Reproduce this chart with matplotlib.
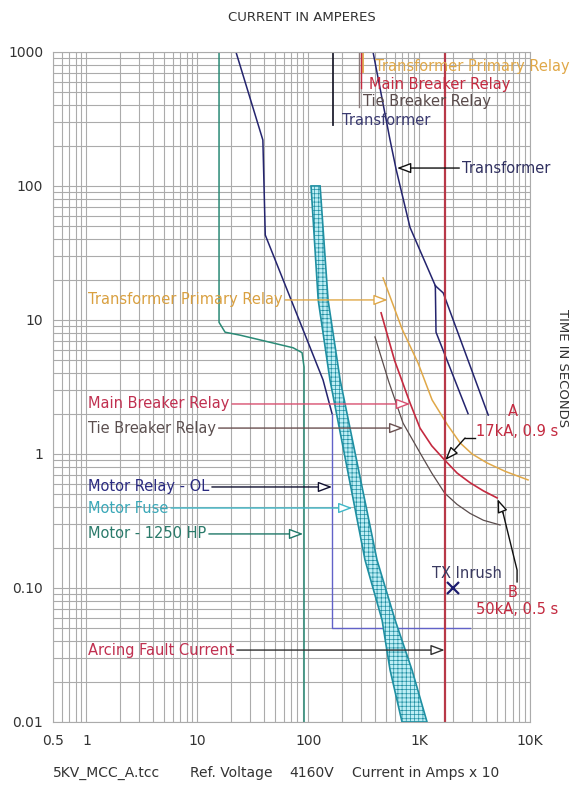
import matplotlib
matplotlib.use('Agg')
import matplotlib.pyplot as plt
import numpy as np
from matplotlib.ticker import FixedLocator, NullFormatter

plt.rcParams['font.family'] = ['DejaVu Sans']
plt.rcParams['hatch.linewidth'] = 0.5

# axis ticks
x_ticks = [0.5, 1, 10, 100, 1000, 10000]
x_labels = ['0.5', '1', '10', '100', '1K', '10K']
y_ticks = [0.01, 0.1, 1, 10, 100, 1000]
y_labels = ['0.01', '0.10', '1', '10', '100', '1000']

# motor relay - overload (upper part, then definite-time part)
relay_ol_i = [22.3, 39, 41, 136, 164]
relay_ol_t = [1000, 220, 43, 3.57, 2.0]
relay_ol_low_i = [164, 164, 2900]
relay_ol_low_t = [2.0, 0.05, 0.05]

# motor fuse band
fuse_min_i = [106, 123, 157, 325, 463, 547, 701]
fuse_max_i = [128, 151, 194, 417, 607, 863, 1178]
fuse_t = [100, 14.1, 3.57, 0.162, 0.0577, 0.0244, 0.01]

# motor 1250 HP starting curve
motor_i = [15.7, 15.7, 17.8, 24.3, 73, 88, 91.7, 91.7]
motor_t = [1000, 9.6, 8.1, 7.7, 6.2, 5.7, 4.46, 0.01]

# transformer damage curve
xfmr_i = [384, 547, 619, 828, 1400]
xfmr_t = [1000, 220, 134, 49, 18]
xfmr_a_i = [1400, 1420, 2760]
xfmr_a_t = [18, 8.1, 2.0]
xfmr_b_i = [1400, 1650, 4200]
xfmr_b_t = [18, 15.9, 1.95]

# relays
tpr_i = [473, 700, 977, 1309, 1800, 2340, 3000, 4094, 6000, 9600]
tpr_t = [20.6, 8.6, 4.78, 2.53, 1.65, 1.21, 1.0, 0.857, 0.74, 0.64]
mbr_i = [454, 600, 828, 1018, 1300, 1700, 2200, 2878, 3800, 5045]
mbr_t = [11.3, 5.0, 2.40, 1.56, 1.15, 0.90, 0.72, 0.61, 0.53, 0.47]
tbr_i = [400, 530, 716, 1018, 1300, 1700, 2200, 2878, 3800, 5370]
tbr_t = [7.47, 3.5, 1.70, 1.02, 0.72, 0.51, 0.42, 0.36, 0.32, 0.295]

fault_i = 1700
inrush_i, inrush_t = 2000, 0.1

navy = '#24246e'
orange = '#e0a848'
red = '#c42a40'
tie = '#5a4c4c'
fuse_c = '#1f8fa2'
motor_c = '#2a8a76'

fig = plt.figure(figsize=(5.75, 7.88), dpi=100)
ax = fig.add_axes([0.0922, 0.0838, 0.8296, 0.8503])
ax.set_xscale('log')
ax.set_yscale('log')
ax.set_xlim(0.5, 10000)
ax.set_ylim(0.01, 1000)
ax.xaxis.set_major_locator(FixedLocator(x_ticks))
ax.set_xticklabels(x_labels)
ax.yaxis.set_major_locator(FixedLocator(y_ticks))
ax.set_yticklabels(y_labels)
ax.xaxis.set_minor_formatter(NullFormatter())
ax.yaxis.set_minor_formatter(NullFormatter())
ax.tick_params(which='both', length=0, labelsize=10, colors='#333333')
ax.tick_params(axis='x', pad=9)
ax.tick_params(axis='y', pad=7)
ax.grid(True, which='both', color='#ababab', lw=0.8)
for s in ax.spines.values():
    s.set_color('#ababab')
    s.set_linewidth(0.8)

# curves
ax.plot(relay_ol_i, relay_ol_t, color=navy, lw=1.1)
ax.plot(relay_ol_low_i, relay_ol_low_t, color='#6262c8', lw=1.0)
ax.fill(fuse_min_i + fuse_max_i[::-1], fuse_t + fuse_t[::-1],
        facecolor='#bdeef5', edgecolor=fuse_c, hatch='++++', lw=1.2, zorder=3)
ax.plot(motor_i, motor_t, color=motor_c, lw=1.1)
ax.plot(xfmr_i, xfmr_t, color=navy, lw=1.1)
ax.plot(xfmr_a_i, xfmr_a_t, color=navy, lw=1.1)
ax.plot(xfmr_b_i, xfmr_b_t, color=navy, lw=1.1)
ax.plot(tpr_i, tpr_t, color=orange, lw=1.1)
ax.plot(mbr_i, mbr_t, color=red, lw=1.2)
ax.plot(tbr_i, tbr_t, color=tie, lw=0.9)
ax.axvline(fault_i, color='#b83848', lw=1.6)
ax.plot(inrush_i, inrush_t, marker='x', color='#1c1c70', ms=8, mew=1.6)
ax.text(2700, 0.129, 'TX Inrush', color='#3a3a60', fontsize=10.5, ha='center', va='center')

# markers at the top
ax.plot([167, 167], [1000, 285], color='#202030', lw=1.3)
ax.text(202, 306, 'Transformer', color='#3a3a70', fontsize=10.5, va='center')
ax.plot([312, 312], [1000, 709], color=orange, lw=1.3)
ax.text(400, 773, 'Transformer Primary Relay', color=orange, fontsize=10.5, va='center')
ax.plot([299, 299], [1000, 539], color=red, lw=1.0)
ax.text(353, 567, 'Main Breaker Relay', color=red, fontsize=10.5, va='center')
ax.plot([287, 287], [1000, 389], color='#8a7a7a', lw=1.0)
ax.text(312, 424, 'Tie Breaker Relay', color=tie, fontsize=10.5, va='center')


def label(txt, tip, ty, tcol, lcol, tx=1.03, left=False):
    ax.annotate(txt, xy=(tip, ty), xytext=(tx, ty), color=tcol, fontsize=10.5,
                ha='left', va='center',
                arrowprops=dict(arrowstyle='-|>,head_length=0.8,head_width=0.3',
                                ec=lcol, fc='white', lw=1.0, shrinkA=0, shrinkB=0,
                                relpos=(0, 0.5) if left else (1, 0.5)),
                zorder=5)


label('Transformer Primary Relay', 520, 14.1, '#d9a040', orange)
label('Main Breaker Relay', 830, 2.36, '#c03050', '#d85070')
label('Tie Breaker Relay', 720, 1.56, '#5c5050', '#6a5050')
label('Motor Relay - OL', 164, 0.567, '#2a2a80', '#101030')
label('Motor Fuse', 250, 0.395, '#3aa8b8', '#40b8c8')
label('Motor - 1250 HP', 90, 0.253, '#2a7a6a', '#207868')
label('Arcing Fault Current', 1700, 0.0344, '#c03050', '#303030')
label('Transformer', 632, 136, '#303060', '#101010', tx=2440, left=True)

# point A
ax.text(7030, 2.06, 'A', color=red, fontsize=10.5, ha='center', va='center')
ax.text(7640, 1.46, '17kA, 0.9 s', color=red, fontsize=10.5, ha='center', va='center')
ax.plot([3190, 2594], [1.315, 1.315], color='#101010', lw=1.0)
ax.annotate('', xy=(1720, 0.9), xytext=(2594, 1.315),
            arrowprops=dict(arrowstyle='-|>,head_length=0.8,head_width=0.3',
                            ec='#101010', fc='white', lw=1.0, shrinkA=0, shrinkB=0))
# point B
ax.text(7030, 0.0918, 'B', color=red, fontsize=10.5, ha='center', va='center')
ax.text(7640, 0.0685, '50kA, 0.5 s', color=red, fontsize=10.5, ha='center', va='center')
ax.plot([7640, 7640, 5710], [0.111, 0.136, 0.363], color='#101010', lw=1.0)
ax.annotate('', xy=(5100, 0.46), xytext=(5710, 0.363),
            arrowprops=dict(arrowstyle='-|>,head_length=0.8,head_width=0.3',
                            ec='#101010', fc='white', lw=1.0, shrinkA=0, shrinkB=0))

fig.text(0.525, 0.978, 'CURRENT IN AMPERES', fontsize=9.5, color='#333333', ha='center', va='center')
fig.text(0.979, 0.533, 'TIME IN SECONDS', fontsize=9.5, color='#333333', rotation=270,
         ha='center', va='center')
foot_y = 0.019
fig.text(0.092, foot_y, '5KV_MCC_A.tcc', fontsize=10, color='#333333', ha='left', va='center')
fig.text(0.330, foot_y, 'Ref. Voltage', fontsize=10, color='#333333', ha='left', va='center')
fig.text(0.504, foot_y, '4160V', fontsize=10, color='#333333', ha='left', va='center')
fig.text(0.612, foot_y, 'Current in Amps x 10', fontsize=10, color='#333333', ha='left', va='center')

fig.savefig('out.png', dpi=100)
